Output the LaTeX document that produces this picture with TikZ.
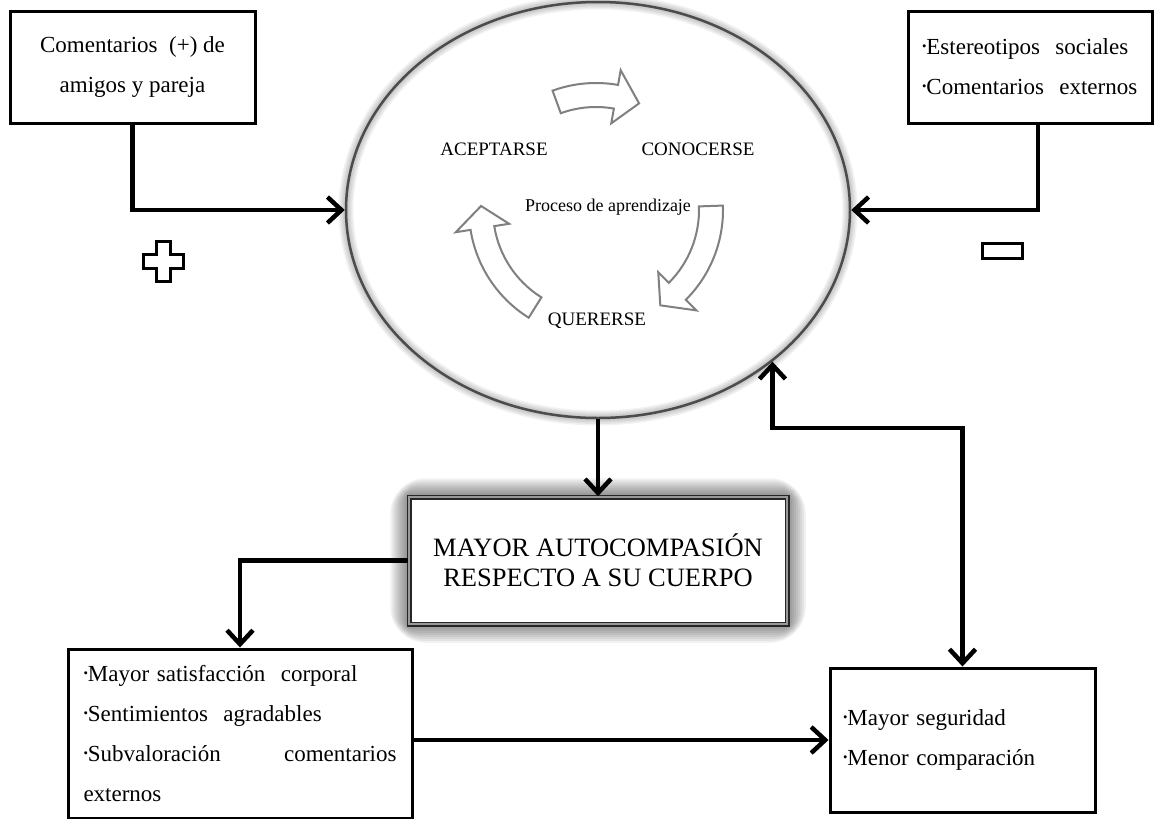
\documentclass[tikz,border=0pt]{standalone}
\usepackage{fontspec}
\setmainfont{Liberation Serif}
\usepackage{graphicx}
\usetikzlibrary{arrows.meta,shapes.geometric,calc,backgrounds}
\newcommand\bul{\raisebox{0.18em}{\scalebox{0.55}{•}}}
\newcommand\cycarrow[3]{%
  \draw[cyc] ([shift={(#1:103)}]C) arc[start angle=#1, end angle=#2, radius=103]
    -- ([shift={(#2:88)}]C) -- ([shift={(#3:115)}]C) -- ([shift={(#2:142)}]C)
    -- ([shift={(#2:127)}]C) arc[start angle=#2, end angle=#1, radius=127] -- cycle;}
\begin{document}
\begin{tikzpicture}[x=1pt,y=-1pt,
  box/.style={draw=black, line width=3pt, rectangle, inner sep=0pt, fill=white, text=black},
  txt/.style={font=\fontsize{23}{40}\selectfont},
  lab/.style={font=\fontsize{19}{20}\selectfont, text=black, inner sep=0pt},
  conn/.style={line width=4.5pt, -{Straight Barb[length=14pt,width=26pt]}},
  dconn/.style={line width=4.5pt, {Straight Barb[length=14pt,width=26pt]}-{Straight Barb[length=14pt,width=26pt]}},
  cyc/.style={draw=black!50, line width=2pt, fill=white, line join=miter},
  cbox/.style={draw=black!85, line width=1.5pt, double=black!40, double distance=2pt, fill=white, inner sep=0pt, text=black},
  sign/.style={draw=black, line width=3pt}]
\useasboundingbox (0,0) rectangle (1159,819);

% main ellipse
\node[draw=black!70, line width=2.5pt, ellipse, minimum width=504pt, minimum height=416pt, inner sep=0pt] (circ) at (598,210) {};
\coordinate (C) at (596,210);

% cycle arrows
\cycarrow{-110}{-80}{-68}
\cycarrow{-2}{45}{56}
\cycarrow{122}{171}{182}

% labels in the ellipse
\node[lab] (acep) at (494,149) {ACEPTARSE};
\node[lab] (cono) at (698,149) {CONOCERSE};
\node[lab] (quer) at (597,321) {QUERERSE};
\node[lab, font=\fontsize{18}{20}\selectfont] (proc) at (608,207) {Proceso de aprendizaje};

% boxes
\node[box, txt, minimum width=245pt, minimum height=112pt, align=center] (tl) at (132.5,67)
  {Comentarios~~(+) de\\amigos y pareja};
\node[box, txt, minimum width=244pt, minimum height=112pt, text width=216pt, align=left] (tr) at (1030,67)
  {\bul Estereotipos~~sociales\\\bul Comentarios~~externos};
\node[cbox, minimum width=378pt, minimum height=127pt, align=center, font=\fontsize{26.5}{30}\selectfont] (cb) at (598,560.5)
  {MAYOR AUTOCOMPASIÓN\\RESPECTO A SU CUERPO};
\node[box, txt, minimum width=344pt, minimum height=169pt, text width=313pt, align=left] (bl) at (240,733.5)
  {\bul Mayor satisfacción~~corporal\\\bul Sentimientos~~agradables\\\bul Subvaloración\hfill comentarios\\externos};
\node[box, txt, minimum width=265pt, minimum height=144pt, text width=239pt, align=left] (br) at (962.5,740)
  {\bul Mayor seguridad\\\bul Menor comparación};

% connectors
\draw[conn] (tl.south) |- (circ.west);
\draw[conn] ([xshift=8pt]tr.south) |- (circ.east);
\draw[conn] (circ.south) -- (cb.north);
\draw[conn] (cb.west) -| (bl.north);
\draw[conn] (bl.east |- br.west) -- (br.west);
\coordinate (knee) at (963,428);
\draw[dconn] (circ.319) -- (circ.319 |- knee) -| (br.north);

% plus and minus signs
\draw[sign] (156,241) -- (170,241) -- (170,254) -- (183,254) -- (183,268) -- (170,268)
  -- (170,281) -- (156,281) -- (156,268) -- (143,268) -- (143,254) -- (156,254) -- cycle;
\draw[sign] (982,243) rectangle (1022,258);

% background and soft glows
\begin{scope}[on background layer]
  \fill[white] (0,0) rectangle (1159,819);
  \foreach \w in {3,6,9,12,15} {
    \draw[line width=\w pt, black, opacity=0.05] (598,210) ellipse[x radius=252, y radius=208];
  }
  \foreach \w in {4,8,12,16,20,24,28,32,36} {
    \draw[line width=\w pt, black, opacity=0.055, rounded corners=\w pt/2] (cb.south west) rectangle (cb.north east);
  }
\end{scope}
\end{tikzpicture}
\end{document}
